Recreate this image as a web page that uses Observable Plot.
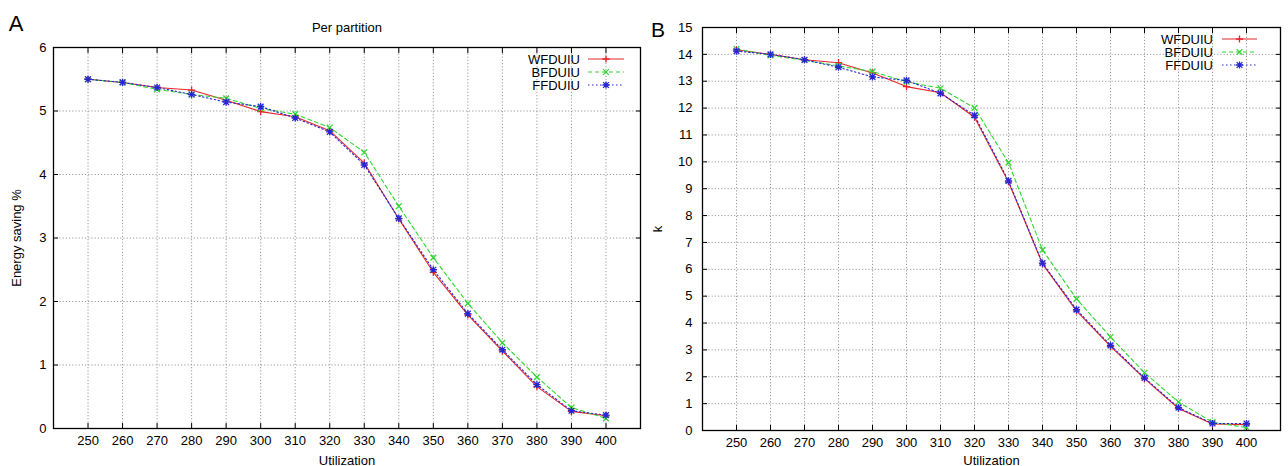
<!DOCTYPE html>
<html><head><meta charset="utf-8">
<script src="https://cdn.jsdelivr.net/npm/d3@7"></script>
<script src="https://cdn.jsdelivr.net/npm/@observablehq/plot@0.6"></script>
<style>
html,body{margin:0;padding:0;background:#fff;}
#wrap{position:relative;width:1288px;height:466px;overflow:hidden;background:#fff;}
#panelA{position:absolute;left:0;top:0;}
#panelB{position:absolute;left:645px;top:0;}
</style></head><body>
<div id="wrap"><div id="panelA"></div><div id="panelB"></div></div>
<script>
// ---- data ----
const utilization = [250,260,270,280,290,300,310,320,330,340,350,360,370,380,390,400];
const seriesNames = ["WFDUIU","BFDUIU","FFDUIU"];

const energyWF = [5.50,5.45,5.37,5.33,5.17,4.99,4.91,4.69,4.18,3.30,2.46,1.79,1.22,0.66,0.27,0.20];
const energyBF = [5.50,5.45,5.34,5.26,5.20,5.04,4.95,4.74,4.35,3.50,2.69,1.97,1.35,0.81,0.33,0.16];
const energyFF = [5.50,5.45,5.37,5.26,5.14,5.07,4.89,4.67,4.15,3.31,2.50,1.81,1.24,0.69,0.28,0.21];

const kWF = [14.17,14.00,13.80,13.69,13.31,12.80,12.57,11.66,9.25,6.20,4.45,3.13,1.93,0.82,0.24,0.22];
const kBF = [14.20,13.96,13.78,13.57,13.36,12.98,12.74,12.01,9.97,6.72,4.90,3.48,2.15,1.06,0.31,0.11];
const kFF = [14.12,14.00,13.80,13.52,13.16,13.03,12.55,11.73,9.29,6.23,4.50,3.17,1.96,0.85,0.26,0.26];

const energyTicks = [0,1,2,3,4,5,6];
const kTicks = [0,1,2,3,4,5,6,7,8,9,10,11,12,13,14,15];

// ---- styles ----
const colors = ["#e4262c","#2fd62f","#2626d2"];
const dashes = [null,"4,3","1.5,2.5"];
const FONT = "'Liberation Sans', Arial, Helvetica, sans-serif";

function gpSymbol(kind){
  return {draw(ctx, size){
    const r = Math.sqrt(size/Math.PI);
    if (kind === "plus" || kind === "star"){
      ctx.moveTo(-r,0); ctx.lineTo(r,0); ctx.moveTo(0,-r); ctx.lineTo(0,r);
    }
    if (kind === "times" || kind === "star"){
      const d = r*0.8;
      ctx.moveTo(-d,-d); ctx.lineTo(d,d); ctx.moveTo(-d,d); ctx.lineTo(d,-d);
    }
  }};
}
const symbols = [gpSymbol("plus"), gpSymbol("times"), gpSymbol("star")];

function makePanel(cfg){
  const gridStyle = {stroke:"#8f8f8f", strokeOpacity:1, strokeWidth:0.9, strokeDasharray:"1.2,2"};
  const marks = [
    Plot.gridX(utilization, gridStyle),
    Plot.gridY(cfg.yTicks, gridStyle),
    Plot.axisX(utilization, {anchor:"bottom", tickSize:-5, tickPadding:12, tickFormat:d=>String(d), label:"Utilization",
      labelAnchor:"center", labelOffset:cfg.xLabelOffset, labelArrow:"none"}),
    Plot.axisX(utilization, {anchor:"top", tickSize:-5, tickFormat:()=>"", label:null}),
    Plot.axisY(cfg.yTicks, {anchor:"left", tickSize:-5, tickPadding:cfg.yPad, tickFormat:d=>String(d), label:cfg.yLabel,
      labelAnchor:"center", labelOffset:cfg.yLabelOffset, labelArrow:"none"}),
    Plot.axisY(cfg.yTicks, {anchor:"right", tickSize:-5, tickFormat:()=>"", label:null}),
  ];
  cfg.values.forEach((vals,i)=>{
    const rows = utilization.map((u,j)=>({u, v:vals[j]}));
    marks.push(Plot.line(rows, {x:"u", y:"v", stroke:colors[i], strokeWidth:1.1, strokeDasharray:dashes[i]}));
  });
  cfg.values.forEach((vals,i)=>{
    const rows = utilization.map((u,j)=>({u, v:vals[j]}));
    marks.push(Plot.dot(rows, {x:"u", y:"v", symbol:()=>symbols[i], r:3.6, fill:"none", stroke:colors[i], strokeWidth:1.3}));
  });
  marks.push(Plot.frame({stroke:"#000", strokeWidth:1.3}));
  if (cfg.title) marks.push(Plot.text([cfg.title], {frameAnchor:"top", dy:-16, lineAnchor:"bottom", fontSize:13}));

  const chart = Plot.plot({
    width: cfg.width, height: 466,
    marginLeft: cfg.marginLeft, marginRight: cfg.marginRight, marginTop: cfg.marginTop, marginBottom: cfg.marginBottom,
    style: {fontFamily: FONT, fontSize: "13px", color: "#000", background: "#fff", overflow: "visible"},
    x: {domain:[240,410]},
    y: {domain: cfg.yDomain},
    symbol: {type:"identity"},
    marks
  });

  // panel letter and legend
  const svg = d3.select(chart);
  svg.append("text").attr("x", cfg.letterX).attr("y", cfg.letterY)
    .attr("font-family", FONT).attr("font-size", cfg.letterSize).attr("fill","#000").text(cfg.letter);
  const fr = cfg.width - cfg.marginRight;
  const g = svg.append("g").attr("font-family", FONT).attr("font-size", 13);
  seriesNames.forEach((name,i)=>{
    const y = cfg.marginTop + 12 + 13*i;
    g.append("text").attr("x", fr + cfg.legTextDx).attr("y", y).attr("dy","0.35em")
      .attr("text-anchor","end").attr("fill","#000").text(name);
    g.append("line").attr("x1", fr + cfg.legLine[0]).attr("x2", fr + cfg.legLine[1]).attr("y1", y).attr("y2", y)
      .attr("stroke", colors[i]).attr("stroke-width",1.1).attr("stroke-dasharray", dashes[i]);
    g.append("path").attr("transform", `translate(${fr + (cfg.legLine[0]+cfg.legLine[1])/2},${y})`)
      .attr("d", d3.symbol(symbols[i], 3.6*3.6*Math.PI)()).attr("fill","none")
      .attr("stroke", colors[i]).attr("stroke-width",1.3);
  });
  return chart;
}

document.getElementById("panelA").append(makePanel({
  values:[energyWF, energyBF, energyFF], yDomain:[0,6], yTicks:energyTicks, yLabel:"Energy saving %",
  width:645, marginLeft:53, marginRight:5, marginTop:47, marginBottom:38,
  xLabelOffset:36, yPad:12, yLabelOffset:42, title:"Per partition",
  letter:"A", letterX:16, letterY:31, letterSize:22,
  legTextDx:-60, legLine:[-52,-16]
}));
document.getElementById("panelB").append(makePanel({
  values:[kWF, kBF, kFF], yDomain:[0,15], yTicks:kTicks, yLabel:"k",
  width:643, marginLeft:57, marginRight:8, marginTop:27, marginBottom:36,
  xLabelOffset:34, yPad:15, yLabelOffset:50, title:null,
  letter:"B", letterX:13, letterY:37, letterSize:21,
  legTextDx:-67, legLine:[-58,-23]
}));
</script>
</body></html>
